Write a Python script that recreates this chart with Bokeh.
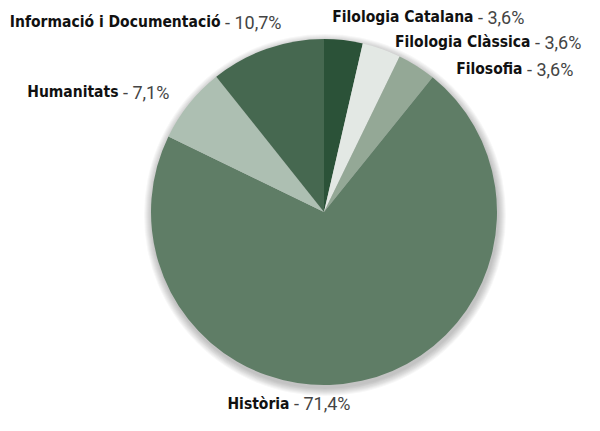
import math
from bokeh.plotting import figure
from bokeh.models import Range1d, ColumnDataSource
from bokeh.core.properties import value
from bokeh.embed import file_html
from bokeh.resources import INLINE

# ---- data ----
labels = ["Filologia Catalana", "Filologia Clàssica", "Filosofia", "Història",
          "Humanitats", "Informació i Documentació"]
percents = [3.6, 3.6, 3.6, 71.4, 7.1, 10.7]
colors = ["#2b5238", "#e3e8e4", "#94a896", "#5f7d66", "#adbfb2", "#466850"]

# ---- layout (pixel coordinates inside plot) ----
W, H = 584, 415
cx, cy, R = 323.5, 203.5, 173
# label split points (end of bold part) and vertical centers, in plot coords
label_x = [473, 530, 522, 289, 118, 220]
label_y = [398.5, 373.5, 346.5, 12, 323.5, 393.5]

p = figure(width=W, height=H, output_backend="svg", toolbar_location=None,
           x_range=Range1d(0, W), y_range=Range1d(0, H), min_border=0)
p.axis.visible = False
p.grid.visible = False
p.outline_line_color = None
p.background_fill_color = "white"

# soft shadow
for k in range(8, 0, -1):
    p.circle(x=[cx + 1], y=[cy - 3], radius=R + k, fill_color="black",
             fill_alpha=0.03, line_color=None)

total = sum(percents)
starts, ends = [], []
a = math.pi / 2
for v in percents:
    da = 2 * math.pi * v / total
    starts.append(a - da)
    ends.append(a)
    a -= da

src = ColumnDataSource(dict(start=starts, end=ends, color=colors))
p.wedge(x=cx, y=cy, radius=R, start_angle="start", end_angle="end",
        fill_color="color", line_color=None, source=src)

vals = ["\u00a0- " + f"{v:.1f}".replace(".", ",") + "%" for v in percents]
tsrc = ColumnDataSource(dict(x=label_x, y=label_y, lab=labels, val=vals))
p.text(x="x", y="y", text="lab", source=tsrc, text_align="right",
       text_baseline="middle", text_font=value("DejaVu Sans Condensed"),
       text_font_style="bold", text_font_size="15.5px", text_color="#111111")
p.text(x="x", y="y", text="val", source=tsrc, text_align="left",
       text_baseline="middle", text_font=value("Roboto"),
       text_font_size="18px", text_color="#444444")

open("out.html", "w").write(file_html(p, INLINE))
